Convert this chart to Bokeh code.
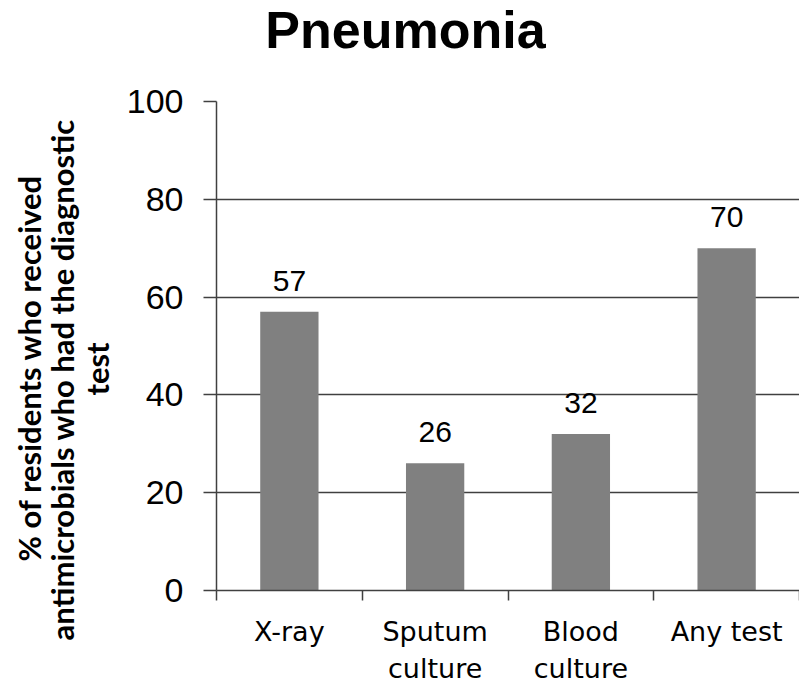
from bokeh.plotting import figure
from bokeh.models import Range1d, FixedTicker, Label, Title
from bokeh.layouts import column
from bokeh.embed import file_html
from bokeh.resources import INLINE
from bokeh.core.properties import value

title_text = "Pneumonia"
categories = ["X-ray", "Sputum\nculture", "Blood\nculture", "Any test"]
percentages = [57, 26, 32, 70]
y_ticks = [0, 20, 40, 60, 80, 100]
y_label_lines = [
    "% of residents who received",
    "antimicrobials who had the diagnostic",
    "test",
]

positions = [i + 0.5 for i in range(len(categories))]
boundaries = list(range(len(categories) + 1))

LINE = "#404040"
W = 799
TITLE_H = 80
FRAME_LEFT = 216

# ---- title strip -------------------------------------------------------
tf = figure(width=W, height=TITLE_H, output_backend="svg", toolbar_location=None,
            x_range=Range1d(0, 1), y_range=Range1d(0, 1),
            x_axis_location=None, y_axis_location=None, min_border=0,
            min_border_left=FRAME_LEFT)
tf.outline_line_color = None
tf.grid.visible = False
tf.add_layout(Label(x=405 - FRAME_LEFT, y=TITLE_H - 29, x_units="screen",
                    y_units="screen", text=title_text,
                    text_font="Liberation Sans", text_font_style="bold",
                    text_font_size="52px", text_align="center",
                    text_baseline="alphabetic", text_color="black"))

# ---- main chart --------------------------------------------------------
p = figure(width=W, height=686 - TITLE_H, output_backend="svg",
           toolbar_location=None,
           x_range=Range1d(0, len(categories)), y_range=Range1d(0, 100),
           min_border_left=FRAME_LEFT, min_border_right=0,
           min_border_top=101 - TITLE_H, min_border_bottom=94)
p.outline_line_color = None

# x axis: labels at centres, tick marks between categories
p.xaxis.ticker = FixedTicker(ticks=positions, minor_ticks=boundaries)
p.xaxis.major_label_overrides = {pos: cat for pos, cat in zip(positions, categories)}
p.xaxis.major_tick_line_color = None
p.xaxis.minor_tick_line_color = LINE
p.xaxis.minor_tick_line_width = 1.5
p.xaxis.minor_tick_out = 10
p.xaxis.minor_tick_in = 0
p.xaxis.axis_line_color = LINE
p.xaxis.axis_line_width = 1.5
p.xaxis.major_label_text_font = "DejaVu Sans"
p.xaxis.major_label_text_font_size = "27px"
p.xaxis.major_label_text_color = "black"
p.xaxis.major_label_text_line_height = 1.2
p.xaxis.major_label_standoff = 15
p.xgrid.visible = False

# y axis
p.yaxis.ticker = FixedTicker(ticks=y_ticks)
p.yaxis.major_tick_out = 13
p.yaxis.major_tick_in = 0
p.yaxis.major_tick_line_color = LINE
p.yaxis.major_tick_line_width = 1.5
p.yaxis.minor_tick_line_color = None
p.yaxis.axis_line_color = LINE
p.yaxis.axis_line_width = 1.5
p.yaxis.major_label_text_font = "Liberation Sans"
p.yaxis.major_label_text_font_size = "34px"
p.yaxis.major_label_text_color = "black"
p.yaxis.major_label_standoff = 20
p.ygrid.ticker = FixedTicker(ticks=y_ticks)
p.ygrid.grid_line_color = LINE
p.ygrid.grid_line_width = 1.5

p.vbar(x=positions, top=percentages, width=0.4, fill_color="#808080",
       line_color=None)
p.text(x=positions, y=percentages, text=[str(v) for v in percentages],
       text_align="center", text_baseline="alphabetic", y_offset=-31,
       text_font=value("Liberation Sans"), text_font_size="30px",
       text_color="black")

# y-axis title, three centred lines (innermost first)
offsets = [29, -50, 195]
standoffs = [11, -25, 15]
for line, off, so in reversed(list(zip(y_label_lines, offsets, standoffs))):
    p.add_layout(Title(text=line, align="left", vertical_align="bottom",
                       offset=off, standoff=so, text_font="Lato",
                       text_font_style="bold", text_font_size="31px",
                       text_color="black"), "left")

layout = column(tf, p, spacing=0)
open("out.html", "w").write(file_html(layout, INLINE))
